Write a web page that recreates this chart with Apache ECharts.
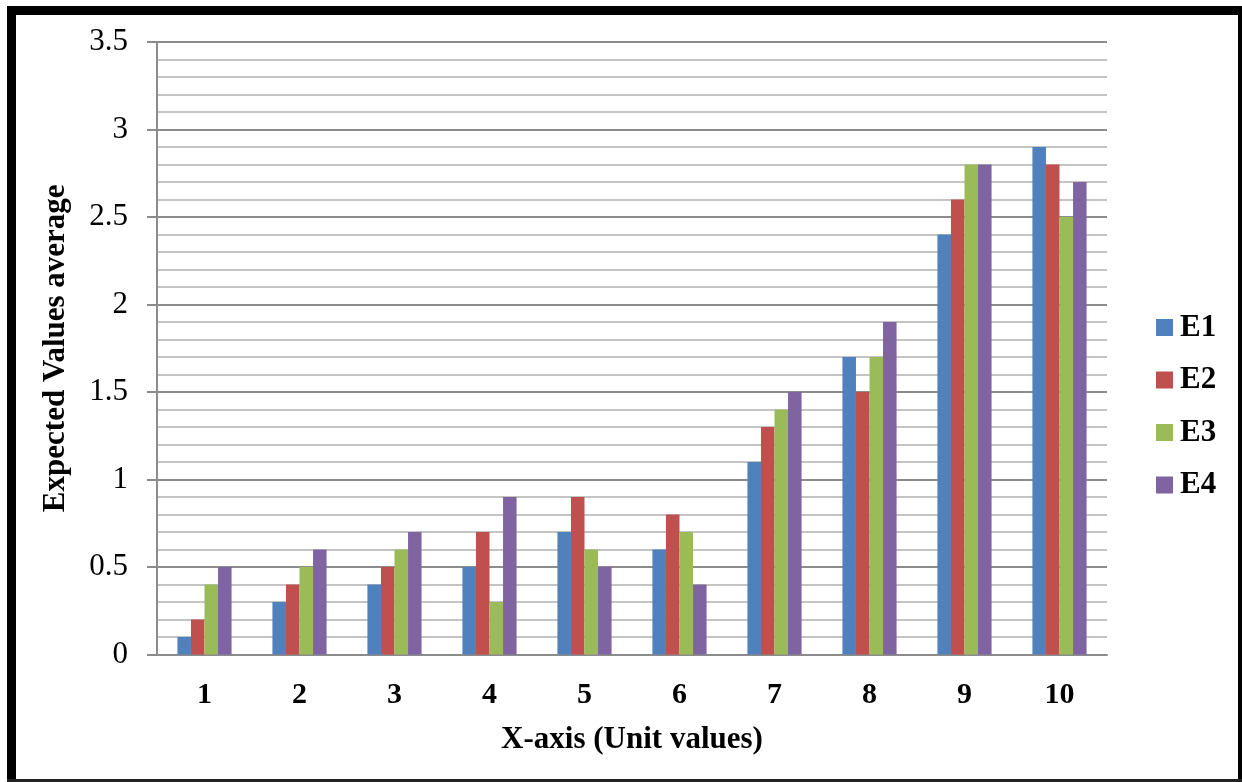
<!DOCTYPE html>
<html>
<head>
<meta charset="utf-8">
<title>Expected Values average</title>
<script src="https://cdn.jsdelivr.net/npm/echarts@6/dist/echarts.min.js"></script>
<style>
  html, body { margin: 0; padding: 0; background: #ffffff; }
  #chart { width: 1242px; height: 782px; }
</style>
</head>
<body>
<div id="chart"></div>
<script>
// Unit values along the x-axis
const categories = ['1', '2', '3', '4', '5', '6', '7', '8', '9', '10'];

// Expected value averages for each experiment
const e1 = [0.1, 0.3, 0.4, 0.5, 0.7, 0.6, 1.1, 1.7, 2.4, 2.9];
const e2 = [0.2, 0.4, 0.5, 0.7, 0.9, 0.8, 1.3, 1.5, 2.6, 2.8];
const e3 = [0.4, 0.5, 0.6, 0.3, 0.6, 0.7, 1.4, 1.7, 2.8, 2.5];
const e4 = [0.5, 0.6, 0.7, 0.9, 0.5, 0.4, 1.5, 1.9, 2.8, 2.7];

const seriesNames = ['E1', 'E2', 'E3', 'E4'];
const seriesData = [e1, e2, e3, e4];
const seriesColors = ['#4F81BD', '#C0504D', '#9BBB59', '#8064A2'];

const FONT = '"Liberation Serif", "Times New Roman", serif';

const chart = echarts.init(document.getElementById('chart'), null, { renderer: 'canvas' });

chart.setOption({
  backgroundColor: '#ffffff',
  animation: false,
  color: seriesColors,
  grid: { left: 157, right: 135, top: 42, bottom: 127.5, containLabel: false },
  legend: {
    orient: 'vertical',
    left: 1151,
    top: 307,
    itemWidth: 17,
    itemHeight: 17,
    itemGap: 21.5,
    icon: 'rect',
    data: seriesNames,
    textStyle: {
      fontFamily: FONT,
      fontWeight: 'bold',
      fontSize: 31,
      lineHeight: 30,
      color: '#000000',
      padding: [0, 0, 0, 2]
    }
  },
  xAxis: {
    type: 'category',
    data: categories,
    name: 'X-axis (Unit values)',
    nameLocation: 'middle',
    nameGap: 70,
    nameTextStyle: {
      fontFamily: FONT, fontWeight: 'bold', fontSize: 31, color: '#000000'
    },
    axisLine: { show: true, lineStyle: { color: '#8c8c8c', width: 2 } },
    axisTick: { show: false },
    axisLabel: {
      fontFamily: FONT, fontWeight: 'bold', fontSize: 30, color: '#000000', margin: 26
    },
    splitLine: { show: false }
  },
  yAxis: {
    type: 'value',
    min: 0,
    max: 3.5,
    interval: 0.5,
    name: 'Expected Values average',
    nameLocation: 'middle',
    nameGap: 86,
    nameTextStyle: {
      fontFamily: FONT, fontWeight: 'bold', fontSize: 31, color: '#000000'
    },
    axisLine: { show: true, lineStyle: { color: '#8c8c8c', width: 2 } },
    axisTick: { show: true, length: 10, lineStyle: { color: '#8c8c8c', width: 2 } },
    axisLabel: {
      fontFamily: FONT, fontSize: 31, color: '#000000', margin: 29
    },
    splitLine: { show: true, lineStyle: { color: '#8c8c8c', width: 2 } },
    minorTick: { show: false, splitNumber: 5 },
    minorSplitLine: { show: true, lineStyle: { color: '#c4c4c4', width: 2 } }
  },
  series: seriesNames.map((name, i) => ({
    name: name,
    type: 'bar',
    data: seriesData[i],
    barGap: '0%',
    barCategoryGap: '43%',
    itemStyle: { color: seriesColors[i] }
  })),
  graphic: [
    // frame around the figure
    { type: 'rect', shape: { x: 7, y: 6, width: 9, height: 776 }, style: { fill: '#000000' }, z: 100 },
    { type: 'rect', shape: { x: 7, y: 6, width: 1235, height: 9 }, style: { fill: '#000000' }, z: 100 },
    { type: 'rect', shape: { x: 1238, y: 6, width: 4, height: 776 }, style: { fill: '#000000' }, z: 100 },
    { type: 'rect', shape: { x: 7, y: 779, width: 1235, height: 3 }, style: { fill: '#222222' }, z: 100 }
  ]
});
</script>
</body>
</html>
